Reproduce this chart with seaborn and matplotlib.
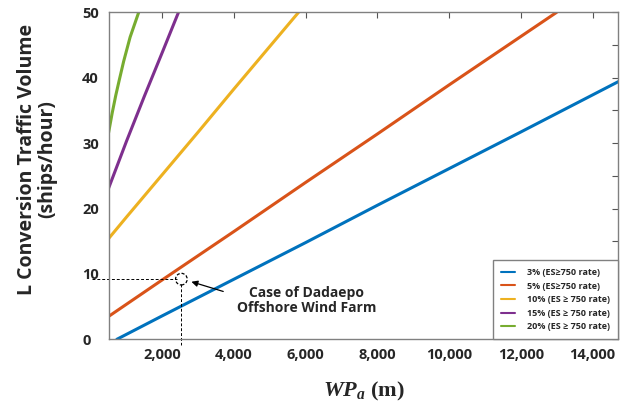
import numpy as np
import pandas as pd
import seaborn as sns
import matplotlib
matplotlib.use('Agg')
import matplotlib.pyplot as plt
from matplotlib.ticker import FuncFormatter, MultipleLocator

# 데이터
labels = ['3% (ES≥750 rate)', '5% (ES≥750 rate)', '10% (ES ≥ 750 rate)',
          '15% (ES ≥ 750 rate)', '20% (ES ≥ 750 rate)']
colors = ['#0072BD', '#D95319', '#EDB120', '#7E2F8E', '#77AC30']

x_3 = [730, 2000, 4000, 6000, 8000, 10000, 12000, 14720]
y_3 = [0, 3.6, 9.2, 14.8, 20.5, 26.1, 31.7, 39.4]
x_5 = [500, 2000, 4000, 6000, 8000, 10000, 12000, 13000]
y_5 = [3.5, 9.1, 16.5, 24.0, 31.4, 38.9, 46.3, 50.0]
x_10 = [500, 1000, 2000, 3000, 4000, 5000, 5800]
y_10 = [15.4, 18.7, 25.2, 31.7, 38.3, 44.8, 50.0]
x_15 = [500, 1000, 1500, 2000, 2450]
y_15 = [23.1, 30.3, 37.2, 43.9, 50.0]
x_20 = [500, 600, 700, 800, 920, 1100, 1340]
y_20 = [31.6, 34.6, 37.3, 39.7, 42.5, 46.2, 50.0]

# 대다포 해상풍력 사례
case_x = 2530
case_y = 9.2

xs = [x_3, x_5, x_10, x_15, x_20]
ys = [y_3, y_5, y_10, y_15, y_20]
df = pd.concat([pd.DataFrame({'WPa': x, 'L': y, 'rate': lab})
                for x, y, lab in zip(xs, ys, labels)], ignore_index=True)

sns.set_style('white')
plt.rcParams['font.family'] = ['Open Sans', 'Noto Sans CJK KR', 'DejaVu Sans']
plt.rcParams['mathtext.fontset'] = 'custom'
plt.rcParams['mathtext.it'] = 'Liberation Serif:italic:bold'
plt.rcParams['mathtext.rm'] = 'Liberation Serif:bold'

fig = plt.figure(figsize=(6.22, 4.07), dpi=100)
ax = fig.add_axes([0.1746, 0.1663, 0.8195, 0.8035])

sns.lineplot(data=df, x='WPa', y='L', hue='rate', hue_order=labels,
             palette=colors, linewidth=2.2, ax=ax, sort=True, estimator=None)

ax.set_xlim(500, 14720)
ax.set_ylim(0, 50)

# 사례 표시: 점선 및 원
ax.plot([40, case_x - 130], [case_y, case_y], ls=(0, (3, 2)), color='black',
        lw=0.7, clip_on=False)
ax.plot([case_x, case_x], [case_y - 0.75, -0.9], ls=(0, (3, 2)), color='black',
        lw=0.7, clip_on=False)
ax.scatter([case_x], [case_y], s=70, facecolors='none', edgecolors='black',
           linewidths=0.9, linestyles=(0, (2.5, 1.5)), zorder=5)

ax.annotate('Case of Dadaepo\nOffshore Wind Farm', xy=(case_x + 280, case_y - 0.4),
            xytext=(6030, 5.9), ha='center', va='center', fontsize=10,
            fontweight='bold', linespacing=1.1,
            arrowprops=dict(arrowstyle='-|>', color='black', lw=0.9,
                            mutation_scale=9, shrinkA=8, shrinkB=0,
                            relpos=(0.05, 0.6)))

# 축 설정
ax.xaxis.set_major_locator(MultipleLocator(2000))
ax.xaxis.set_major_formatter(FuncFormatter(lambda v, p: f'{int(v):,}'))
ax.yaxis.set_major_locator(MultipleLocator(10))
ax.yaxis.set_minor_locator(MultipleLocator(5))
ax.tick_params(which='both', direction='in', top=True, right=True,
               length=4, width=0.8, color='#555555')
ax.tick_params(axis='x', labelsize=10.5, pad=6)
ax.tick_params(axis='y', labelsize=10.5, pad=19)
for t in ax.get_xticklabels() + ax.get_yticklabels():
    t.set_fontweight('bold')
for t in ax.get_yticklabels():
    t.set_horizontalalignment('left')
for s in ax.spines.values():
    s.set_color('#808080')
    s.set_linewidth(1.0)

ax.set_ylabel('L Conversion Traffic Volume\n(ships/hour)', fontsize=14,
              fontweight='bold', linespacing=1.05)
ax.yaxis.set_label_coords(-0.1, 0.55)
ax.set_xlabel(r'$WP_a\ \mathrm{(m)}$', fontsize=16)
ax.xaxis.set_label_coords(0.5, -0.125)

leg = ax.legend(loc='lower right', frameon=True, fancybox=False,
                edgecolor='#808080', framealpha=1, borderaxespad=0.0,
                handlelength=1.6, handletextpad=1.3, borderpad=0.9,
                labelspacing=0.5, prop={'weight': 'bold', 'size': 6.5})
for line in leg.get_lines():
    line.set_linewidth(1.5)

fig.savefig('out.png', dpi=100)
